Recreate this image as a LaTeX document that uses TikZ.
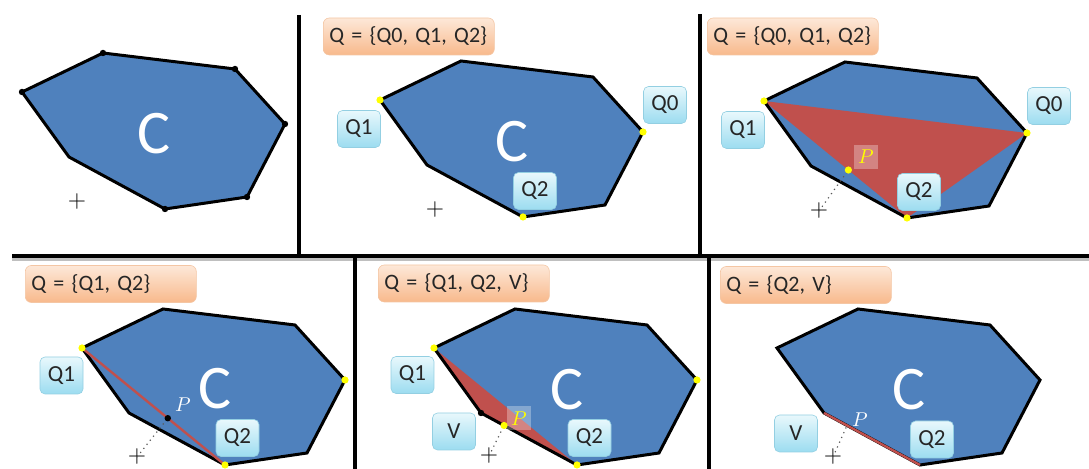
\documentclass[tikz,border=0pt]{standalone}
\usepackage{fontspec}
\setmainfont{Carlito}
\usepackage{tikz}
\usetikzlibrary{calc}
\usepackage{xcolor}
\definecolor{HullBlue}{HTML}{4F81BD}
\definecolor{HullRed}{HTML}{C0504D}
\definecolor{TagTop}{HTML}{E8F8FC}
\definecolor{TagBot}{HTML}{9CDCF0}
\definecolor{TagLine}{HTML}{93CFE2}
\definecolor{SetTop}{HTML}{FDE8D8}
\definecolor{SetBot}{HTML}{F8B98C}
\definecolor{SetLine}{HTML}{F4C6A4}
\definecolor{PtYellow}{HTML}{FFFF00}

\tikzset{
  hullfill/.style={fill=HullBlue},
  hullline/.style={draw=black,line width=1.5pt,line join=miter},
  sepline/.style={draw=black,line width=1.8pt},
  sepshade/.style={draw=black!25,line width=2pt},
  redseg/.style={draw=HullRed,line width=1.2pt},
  reach/.style={draw=black!65,dotted,line width=0.6pt},
  hullname/.style={text=white,inner sep=0pt,font=\fontsize{31}{31}\selectfont},
  crossmark/.style={inner sep=0pt,font=\fontsize{13}{13}\selectfont},
  qtag/.style={rectangle,rounded corners=2.5pt,top color=TagTop,bottom color=TagBot,
               draw=TagLine,line width=0.3pt,minimum width=21.5pt,minimum height=18.5pt,
               inner sep=0pt,text=black!85,font=\fontsize{11.5}{11.5}\selectfont},
  qset/.style={rectangle,rounded corners=3pt,top color=SetTop,bottom color=SetBot,
               draw=SetLine,line width=0.3pt,text width=79.5pt,inner xsep=3pt,
               inner ysep=0pt,minimum height=18.5pt,align=left,anchor=west,
               text=black!85,font=\fontsize{11}{11}\selectfont}
  ,pyellow/.style={text=PtYellow,fill=white,fill opacity=0.3,text opacity=1,
                  minimum size=12pt,inner sep=0pt,font=\fontsize{10}{10}\selectfont},
  pwhite/.style={text=white,inner sep=0pt,font=\fontsize{10}{10}\selectfont}
}

\newcommand{\hullpts}{%
  \coordinate (a) at (103,53);
  \coordinate (b) at (235,69);
  \coordinate (c) at (285,124);
  \coordinate (d) at (247,197);
  \coordinate (e) at (165,209);
  \coordinate (f) at (69,157);
  \coordinate (g) at (22,92);}
\newcommand{\hullshape}[1]{%
  \path[#1] (a) -- (b) -- (c) -- (d) -- (e) -- (f) -- (g) -- cycle;}

\begin{document}
\begin{tikzpicture}[x=0.5pt,y=-0.5pt]
  \useasboundingbox (0,0) rectangle (1089,469);

  % frame lines
  \draw[sepshade] (12,259) -- (1089,259);
  \draw[sepline] (12,256) -- (1089,256);
  \draw[sepline] (299,15) -- (299,256);
  \draw[sepline] (700,14) -- (700,256);
  \draw[sepline] (355,256) -- (355,469);
  \draw[sepline] (709,256) -- (709,469);

  % panel 1
  \begin{scope}
    \hullpts
    \hullshape{hullfill}
    \hullshape{hullline}
    \foreach \v in {a,b,c,d,e,g} \fill[black] (\v) circle (1.6pt);
    \node[hullname] (c1) at (154,134) {C};
    \node[crossmark] (x1) at (77,202) {$+$};
  \end{scope}

  % panel 2
  \node[qset] (set2) at (323,36.5) {\mbox{Q = \{Q0, Q1, Q2\}}};
  \begin{scope}[shift={(358,8)}]
    \hullpts
    \hullshape{hullfill}
    \hullshape{hullline}
    \node[hullname] (c2) at (154,134) {C};
    \node[crossmark] (x2) at (77,202) {$+$};
    \node[qtag] (q1b) at (1,121) {Q1};
    \node[qtag] (q0b) at (307,97) {Q0};
    \node[qtag] (q2b) at (177,183) {Q2};
    \foreach \v in {g,c,e} \fill[PtYellow] (\v) circle (1.8pt);
  \end{scope}

  % panel 3
  \node[qset] (set3) at (707,36.5) {\mbox{Q = \{Q0, Q1, Q2\}}};
  \begin{scope}[shift={(742,9)}]
    \hullpts
    \hullshape{hullfill}
    \fill[HullRed] (g) -- (c) -- (e) -- cycle;
    \hullshape{hullline}
    \coordinate (p) at ($(g)!0.59!(e)$);
    \node[crossmark] (x3) at (77,202) {$+$};
    \draw[reach] (x3.center) -- (p);
    \node[qtag] (q1c) at (1,121) {Q1};
    \node[qtag] (q0c) at (307,97) {Q0};
    \node[qtag] (q2c) at (177,183) {Q2};
    \node[pyellow] (pl3) at (124,148) {$P$};
    \foreach \v in {g,c,e,p} \fill[PtYellow] (\v) circle (1.8pt);
  \end{scope}

  % panel 4
  \node[qset] (set4) at (25,284) {\mbox{Q = \{Q1, Q2\}}};
  \begin{scope}[shift={(60,256)}]
    \hullpts
    \hullshape{hullfill}
    \hullshape{hullline}
    \draw[redseg] (g) -- (e);
    \coordinate (p) at ($(g)!0.6!(e)$);
    \node[hullname] (c4) at (155,133) {C};
    \node[crossmark] (x4) at (77,201) {$+$};
    \draw[reach] (x4.center) -- (p);
    \node[pwhite] (pl4) at (123,149) {$P$};
    \node[qtag] (q1d) at (1.5,119.5) {Q1};
    \node[qtag] (q2d) at (177.5,182) {Q2};
    \fill[black] (p) circle (1.6pt);
    \foreach \v in {g,c,e} \fill[PtYellow] (\v) circle (1.8pt);
  \end{scope}

  % panel 5
  \node[qset] (set5) at (378,283.5) {\mbox{Q = \{Q1, Q2, V\}}};
  \begin{scope}[shift={(412,256)}]
    \hullpts
    \hullshape{hullfill}
    \fill[HullRed] (g) -- (f) -- (e) -- cycle;
    \hullshape{hullline}
    \coordinate (p) at ($(f)!0.24!(e)$);
    \node[hullname] (c5) at (155,134) {C};
    \node[crossmark] (x5) at (77,200) {$+$};
    \draw[reach] (x5.center) -- (p);
    \node[pyellow] (pl5) at (107,162.5) {$P$};
    \node[qtag] (q1e) at (0.5,119) {Q1};
    \node[qtag] (ve) at (42,175.5) {V};
    \node[qtag] (q2e) at (177.5,182) {Q2};
    \fill[black] (f) circle (1.6pt);
    \foreach \v in {g,c,e,p} \fill[PtYellow] (\v) circle (1.8pt);
  \end{scope}

  % panel 6
  \node[qset] (set6) at (720,285) {\mbox{Q = \{Q2, V\}}};
  \begin{scope}[shift={(755,256)}]
    \hullpts
    \hullshape{hullfill}
    \hullshape{hullline}
    \draw[redseg] (f) -- (e);
    \coordinate (p) at ($(f)!0.24!(e)$);
    \node[hullname] (c6) at (154,134) {C};
    \node[crossmark] (x6) at (78,201) {$+$};
    \draw[reach] (x6.center) -- (p);
    \node[pwhite] (pl6) at (105,164) {$P$};
    \node[qtag] (vf) at (41,177.5) {V};
    \node[qtag] (q2f) at (177,183.5) {Q2};
  \end{scope}
\end{tikzpicture}
\end{document}
